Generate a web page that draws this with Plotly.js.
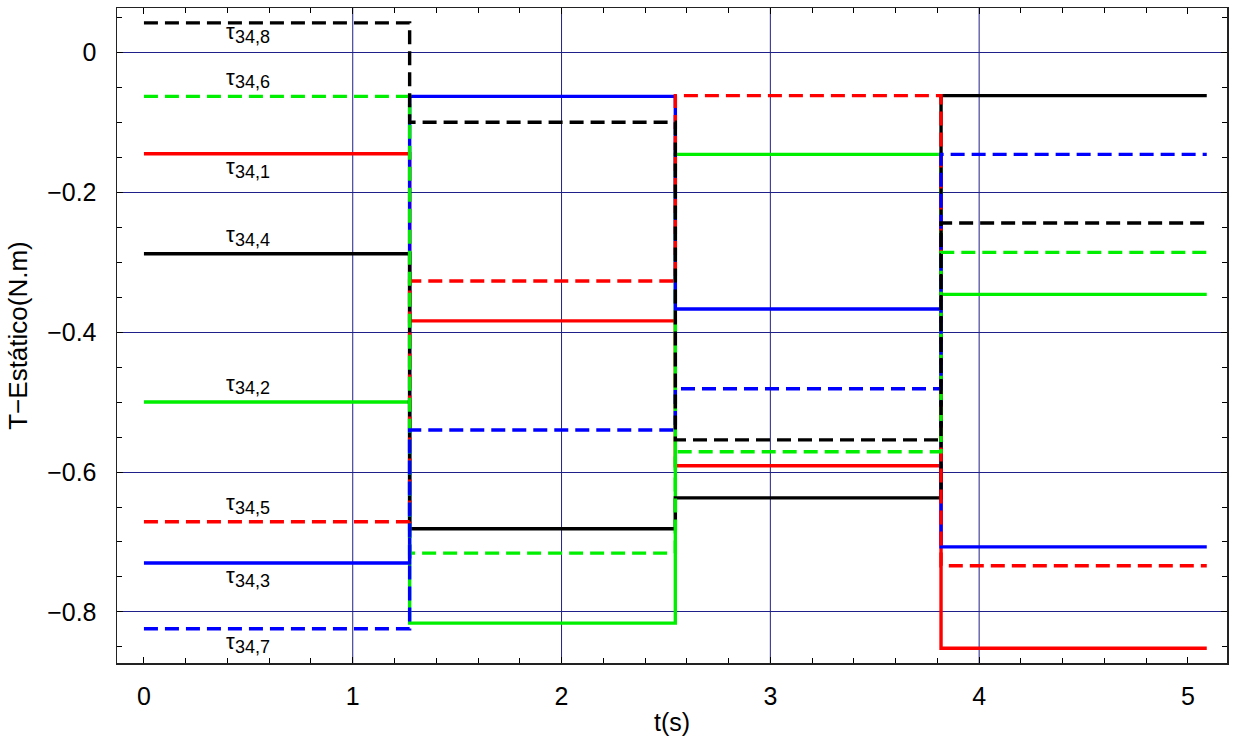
<!DOCTYPE html>
<html>
<head>
<meta charset="utf-8">
<script src="https://cdn.plot.ly/plotly-3.0.1.min.js"></script>
<style>
  html, body { margin: 0; padding: 0; background: #ffffff; }
  #chart { width: 1236px; height: 742px; }
</style>
</head>
<body>
<div id="chart"></div>
<script>
// Switching instants (s)
const tStep = [0, 1.2725, 2.545, 3.8175, 5.09];

// Static torque of each configuration over the four intervals (N.m)
const tau1 = [-0.145, -0.384, -0.591, -0.852];   // red solid
const tau2 = [-0.500, -0.816, -0.146, -0.346];   // green solid
const tau3 = [-0.730, -0.063, -0.367, -0.707];   // blue solid
const tau4 = [-0.288, -0.681, -0.637, -0.062];   // black solid
const tau5 = [-0.671, -0.327, -0.062, -0.734];   // red dashed
const tau6 = [-0.063, -0.716, -0.571, -0.286];   // green dashed
const tau7 = [-0.824, -0.540, -0.481, -0.146];   // blue dashed
const tau8 = [0.042, -0.100, -0.554, -0.244];    // black dashed

const seriesNames = ['34,1', '34,2', '34,3', '34,4', '34,5', '34,6', '34,7', '34,8'];
const seriesValues = [tau1, tau2, tau3, tau4, tau5, tau6, tau7, tau8];
const seriesColors = ['#ff0000', '#00ee00', '#0000ff', '#000000', '#ff0000', '#00ee00', '#0000ff', '#000000'];
const seriesDash = ['solid', 'solid', 'solid', 'solid', 'dash', 'dash', 'dash', 'dash'];
const labelSide = [-1, 1, -1, 1, 1, 1, -1, -1];  // label below (-1) or above (+1) the first level
const labelX = 0.43;  // time where the label symbol meets its subscript

const xTicks = [0, 1, 2, 3, 4, 5];
const yTicks = [0, -0.2, -0.4, -0.6, -0.8];
const gridX = [1, 2, 3, 4];

const FONT = '"Liberation Sans", Arial, Helvetica, sans-serif';

const traces = seriesValues.map((v, i) => ({
  type: 'scatter',
  mode: 'lines',
  x: tStep,
  y: v.concat([v[v.length - 1]]),
  line: { shape: 'hv', color: seriesColors[i], width: 3.4,
          dash: seriesDash[i] === 'dash' ? '14px,7px' : 'solid' },
  name: 'τ' + seriesNames[i],
  hoverinfo: 'x+y+name'
}));

// label: symbol τ plus a lowered subscript, placed above or below the first level
const annotations = [];
seriesValues.forEach((v, i) => {
  const tight = (i === 7);
  const base = labelSide[i] > 0 ? 18 : -(tight ? 10 : 14);
  annotations.push({
    x: labelX, y: v[0], xref: 'x', yref: 'y',
    text: 'τ', showarrow: false, borderpad: 0,
    xanchor: 'right', yanchor: 'middle',
    xshift: 2, yshift: base + 1,
    font: { family: FONT, size: 22, color: '#000000' }
  });
  annotations.push({
    x: labelX, y: v[0], xref: 'x', yref: 'y',
    text: seriesNames[i], showarrow: false, borderpad: 0,
    xanchor: 'left', yanchor: 'middle',
    xshift: 0, yshift: base - 4,
    font: { family: FONT, size: 18, color: '#000000' }
  });
});

const shapes = gridX.map(g => ({
  type: 'line', xref: 'x', yref: 'paper', x0: g, x1: g, y0: 0, y1: 1,
  line: { color: '#20208a', width: 1 }, layer: 'below'
}));

const layout = {
  width: 1236, height: 742,
  margin: { l: 117, r: 9, t: 8, b: 79 },
  paper_bgcolor: '#ffffff', plot_bgcolor: '#ffffff',
  showlegend: false,
  font: { family: FONT, size: 24, color: '#000000' },
  xaxis: {
    range: [-0.129, 5.187],
    tickvals: xTicks, ticktext: xTicks.map(String),
    ticks: 'inside', ticklen: 6, tickwidth: 1, tickcolor: '#000',
    minor: { dtick: 0.2, ticks: 'inside', ticklen: 5, tickcolor: '#000', showgrid: false },
    showgrid: false, zeroline: false,
    showline: true, linecolor: '#222', linewidth: 1.5, mirror: 'ticks',
    ticklabelstandoff: 10,
    tickfont: { family: FONT, size: 25 },
    title: { text: 't(s)', font: { family: FONT, size: 25 }, standoff: 5 }
  },
  yaxis: {
    range: [-0.873, 0.0633],
    tickvals: yTicks,
    ticks: 'inside', ticklen: 6, tickwidth: 1, tickcolor: '#000',
    minor: { dtick: 0.05, ticks: 'inside', ticklen: 5, tickcolor: '#000', showgrid: false },
    showgrid: true, gridcolor: '#20208a', gridwidth: 1,
    zeroline: false,
    showline: true, linecolor: '#222', linewidth: 1.5, mirror: 'ticks',
    ticklabelstandoff: 14,
    tickfont: { family: FONT, size: 25 },
    title: { text: 'T−Estático(N.m)', font: { family: FONT, size: 26 }, standoff: 12 }
  },
  annotations: annotations,
  shapes: shapes
};

Plotly.newPlot('chart', traces, layout, { displayModeBar: false, staticPlot: true });
</script>
</body>
</html>
